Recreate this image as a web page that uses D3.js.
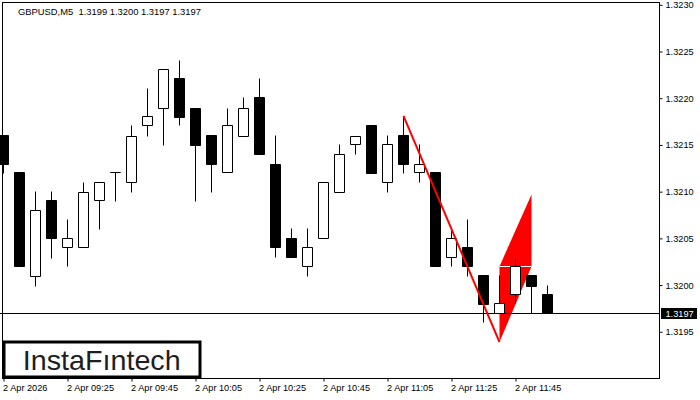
<!DOCTYPE html>
<html>
<head>
<meta charset="utf-8">
<script src="https://cdn.jsdelivr.net/npm/d3@7/dist/d3.min.js"></script>
<style>
  html, body { margin: 0; padding: 0; background: #fff; }
  svg { display: block; }
  text { font-family: "Liberation Sans", Arial, sans-serif; }
</style>
</head>
<body>
<svg id="chart" width="700" height="400"></svg>
<script>
// ---- data ----
const symbolTitle = "GBPUSD,M5  1.3199 1.3200 1.3197 1.3197";
const opens  = [1.32161,1.32121,1.32010,1.32091,1.32041,1.32041,1.32091,1.32121,1.32110,1.32171,
                1.32190,1.32222,1.32190,1.32161,1.32121,1.32160,1.32201,1.32130,1.32050,1.32020,
                1.32050,1.32100,1.32151,1.32171,1.32110,1.32161,1.32121,1.32121,1.32030,1.32041,
                1.32011,1.31970,1.31990,1.32011,1.31990];
const highs  = [1.32161,1.32121,1.32101,1.32101,1.32071,1.32110,1.32110,1.32121,1.32171,1.32211,
                1.32231,1.32241,1.32190,1.32161,1.32190,1.32201,1.32222,1.32161,1.32061,1.32061,
                1.32110,1.32151,1.32160,1.32171,1.32161,1.32180,1.32151,1.32121,1.32059,1.32071,
                1.32011,1.32011,1.32030,1.32011,1.32000];
const lows   = [1.32120,1.32020,1.31999,1.32029,1.32020,1.32041,1.32060,1.32090,1.32100,1.32160,
                1.32150,1.32171,1.32090,1.32100,1.32121,1.32160,1.32140,1.32030,1.32030,1.32010,
                1.32050,1.32100,1.32140,1.32120,1.32100,1.32120,1.32110,1.32020,1.32020,1.32010,
                1.31960,1.31970,1.31981,1.31970,1.31970];
const closes = [1.32130,1.32020,1.32080,1.32050,1.32050,1.32100,1.32110,1.32121,1.32160,1.32181,
                1.32231,1.32180,1.32150,1.32130,1.32171,1.32190,1.32140,1.32041,1.32030,1.32041,
                1.32110,1.32140,1.32160,1.32120,1.32151,1.32130,1.32130,1.32020,1.32050,1.32020,
                1.31980,1.31981,1.32020,1.31999,1.31970];
const priceTicks = [1.3195,1.3200,1.3205,1.3210,1.3215,1.3220,1.3225,1.3230];
const timeTickIndex = [0,4,8,12,16,20,24,28,32];
const timeLabels = ["2 Apr 2026","2 Apr 09:25","2 Apr 09:45","2 Apr 10:05","2 Apr 10:25",
                    "2 Apr 10:45","2 Apr 11:05","2 Apr 11:25","2 Apr 11:45"];
const currentPrice = 1.3197;
// bearish flag pattern: pole (index, price) and flag polygon
const poleIdx = [25, 31];
const polePrice = [1.32181, 1.31939];
const flagIdx = [31, 31, 33, 33];
const flagPrice = [1.31939, 1.32020, 1.32097, 1.32020];
const logoText = "InstaFıntech";

// ---- layout ----
const W = 700, H = 400;
const L = 2.5, R = 659.5, T = 2.5, B = 378.5;
const svg = d3.select("#chart");
svg.append("rect").attr("width", W).attr("height", H).attr("fill", "#fff");

const x = d3.scaleLinear().domain([0, 41]).range([3.5, 659.5]);
const y = d3.scaleLinear().domain([1.3190, 1.3230]).range([378.5, 4.8]);
const py = p => Math.round(y(p)) + 0.5;

const candles = opens.map((o, i) => ({i, o, h: highs[i], l: lows[i], c: closes[i]}));

// flag polygon (background)
svg.append("polygon")
  .attr("points", flagIdx.map((d, k) => [x(d), y(flagPrice[k])].join(",")).join(" "))
  .attr("fill", "#ff0000");
svg.append("line")
  .attr("x1", x(flagIdx[1])).attr("x2", x(flagIdx[2]))
  .attr("y1", py(flagPrice[1])).attr("y2", py(flagPrice[1]))
  .attr("stroke", "#fff").attr("stroke-width", 1);

// candles
const g = svg.append("g");
g.selectAll("line.wick").data(candles).join("line")
  .attr("class", "wick")
  .attr("x1", d => x(d.i)).attr("x2", d => x(d.i))
  .attr("y1", d => py(d.h)).attr("y2", d => py(d.l))
  .attr("stroke", "#000").attr("stroke-width", 1);
g.selectAll("path.body").data(candles).join("path")
  .attr("class", "body")
  .attr("d", d => {
    const x0 = x(d.i) - 5, x1 = x(d.i) + 5;
    const y0 = py(Math.max(d.o, d.c)), y1 = py(Math.min(d.o, d.c));
    return `M${x0},${y0}H${x1}V${y1}H${x0}Z`;
  })
  .attr("fill", d => d.c < d.o ? "#000" : "#fff")
  .attr("stroke", "#000").attr("stroke-width", 1);

// current price line
svg.append("line")
  .attr("x1", 0).attr("x2", R)
  .attr("y1", py(currentPrice)).attr("y2", py(currentPrice))
  .attr("stroke", "#000").attr("stroke-width", 1);

// pole line
svg.append("line")
  .attr("x1", x(poleIdx[0])).attr("y1", y(polePrice[0]))
  .attr("x2", x(poleIdx[1])).attr("y2", y(polePrice[1]))
  .attr("stroke", "#ff0000").attr("stroke-width", 2);

// frame
svg.append("rect")
  .attr("x", L).attr("y", T).attr("width", R - L).attr("height", B - T)
  .attr("fill", "none").attr("stroke", "#000").attr("stroke-width", 1);

// price axis
const yAxis = d3.axisRight(y).tickValues(priceTicks).tickSize(3).tickPadding(3)
  .tickFormat(d3.format(".4f"));
const ya = svg.append("g").attr("transform", `translate(${R},0)`).call(yAxis);
ya.select(".domain").remove();
ya.selectAll(".tick line").attr("stroke", "#000");
ya.selectAll(".tick text").attr("font-size", 9.2).attr("font-family", "Liberation Sans, Arial, sans-serif")
  .attr("fill", "#000");

// current price label
svg.append("rect").attr("x", 661).attr("y", py(currentPrice) - 5.5).attr("width", 36).attr("height", 11)
  .attr("fill", "#000");
svg.append("text").attr("x", 665.5).attr("y", py(currentPrice) + 3.5)
  .attr("font-size", 9.2).attr("fill", "#fff").text(d3.format(".4f")(currentPrice));

// time axis
const xAxis = d3.axisBottom(x).tickValues(timeTickIndex).tickSize(3)
  .tickFormat((d, k) => timeLabels[k]);
const xa = svg.append("g").attr("transform", `translate(0,${B})`).call(xAxis);
xa.select(".domain").remove();
xa.selectAll(".tick line").attr("stroke", "#000");
xa.selectAll(".tick text").attr("font-size", 9.2).attr("font-family", "Liberation Sans, Arial, sans-serif")
  .attr("fill", "#000").attr("text-anchor", "start").attr("x", -1).attr("y", 6).attr("dy", "0.71em");

// title
svg.append("text").attr("x", 18).attr("y", 14.5).attr("font-size", 9.4).attr("fill", "#000")
  .style("white-space", "pre").text(symbolTitle);

// logo
svg.append("rect").attr("x", 4).attr("y", 342).attr("width", 196).attr("height", 35)
  .attr("fill", "#fff").attr("stroke", "#000").attr("stroke-width", 3);
svg.append("text").attr("x", 22.7).attr("y", 370)
  .attr("font-family", "Inter, Lato, sans-serif").attr("font-weight", 500)
  .attr("font-size", 28).attr("fill", "#1e1e1e")
  .attr("textLength", 158).attr("lengthAdjust", "spacingAndGlyphs")
  .text(logoText);
</script>
</body>
</html>
